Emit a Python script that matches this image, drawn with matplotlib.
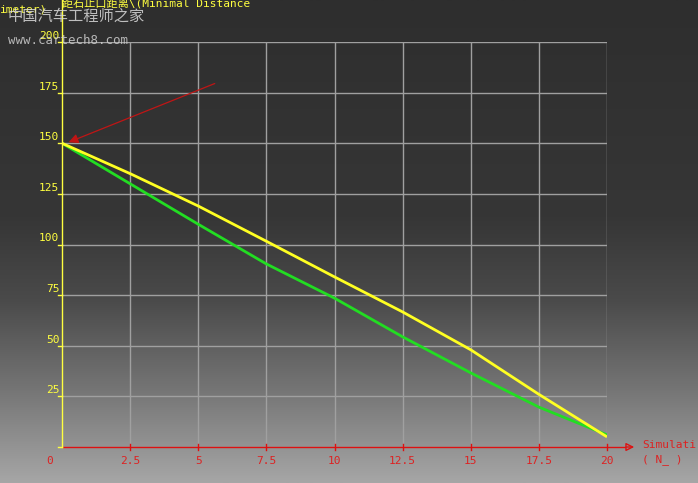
import numpy as np
import matplotlib.pyplot as plt
from matplotlib.colors import LinearSegmentedColormap

# 数据
steps = [0, 2.5, 5, 7.5, 10, 12.5, 15, 17.5, 20]
dist_yellow = [150, 135, 119, 101.6, 84, 66.7, 48, 26, 5]
dist_green = [150, 130, 110, 90.4, 73.5, 54.4, 36.6, 19.7, 6]
x_ticks = [2.5, 5, 7.5, 10, 12.5, 15, 17.5, 20]
x_ticklabels = ['2.5', '5', '7.5', '10', '12.5', '15', '17.5', '20']
y_ticks = [25, 50, 75, 100, 125, 150, 175, 200]
arrow_tail = (5.7, 180)
arrow_head = (0.15, 150)

plt.rcParams['font.family'] = ['DejaVu Sans Mono', 'Noto Sans CJK SC']

fig = plt.figure(figsize=(6.98, 4.83), dpi=100)

# 背景渐变
bg = fig.add_axes([0, 0, 1, 1])
cmap = LinearSegmentedColormap.from_list('bg', [(0, '#a6a6a6'), (0.2, '#737373'),
                                                (0.38, '#4a4a4a'), (0.55, '#363636'),
                                                (1, '#2e2e2e')])
grad = np.linspace(0, 1, 256).reshape(-1, 1)
bg.imshow(grad, aspect='auto', cmap=cmap, origin='lower', extent=[0, 1, 0, 1])
bg.set_axis_off()

ax = fig.add_axes([62 / 698, 36 / 483, 545 / 698, 405 / 483])
ax.patch.set_alpha(0)
ax.set_xlim(0, 20)
ax.set_ylim(0, 200)
for s in ax.spines.values():
    s.set_visible(False)
ax.set_xticks([])
ax.set_yticks([])

# 网格
for v in x_ticks:
    ax.plot([v, v], [0, 200], color='#a0a0a0', lw=1)
for v in y_ticks:
    ax.plot([0, 20], [v, v], color='#a0a0a0', lw=1)

# 曲线
ax.plot(steps, dist_green, color='#22dd22', lw=2.0, solid_capstyle='butt')
ax.plot(steps, dist_yellow, color='#ffff22', lw=2.0, solid_capstyle='butt')

# 坐标轴
ax.plot([0, 20.65], [0, 0], color='#dd1111', lw=1, clip_on=False)
ax.annotate('', xy=(21.1, 0), xytext=(20.6, 0),
            arrowprops=dict(arrowstyle='-|>', color='#dd1111', fc='none', lw=1,
                            mutation_scale=12), annotation_clip=False)
ax.plot([0, 0], [0, 221], color='#ffff40', lw=1, clip_on=False)
for v, lab in zip(x_ticks, x_ticklabels):
    ax.plot([v, v], [-1.5, 1.5], color='#dd1111', lw=1, clip_on=False)
    ax.text(v, -7, lab, color='#dd2222', fontsize=8, ha='center', va='center')
ax.text(-0.45, -7, '0', color='#dd2222', fontsize=8, ha='center', va='center')
ax.plot([-0.15, 0], [0, 0], color='#ffff40', lw=1, clip_on=False)
for v in y_ticks:
    ax.plot([-0.15, 0], [v, v], color='#ffff40', lw=1, clip_on=False)
    ax.text(-0.1, v + 3, str(v), color='#ffff40', fontsize=8, ha='right', va='center')

ax.text(21.3, 1, 'Simulati', color='#dd2222', fontsize=8, ha='left', va='center', clip_on=False)
ax.text(21.3, -6, '( N_ )', color='#dd2222', fontsize=8, ha='left', va='center', clip_on=False)

# 红色箭头
ax.annotate('', xy=arrow_head, xytext=arrow_tail,
            arrowprops=dict(arrowstyle='-|>', color='#c01515', lw=0.9, mutation_scale=14))

# 标题与水印
fig.text(62 / 698, 1 - 3 / 483, '距石止口距离\\(Minimal Distance', color='#ffff40',
         fontsize=8, ha='left', va='center')
fig.text(0, 1 - 10 / 483, 'imeter)', color='#ffff40', fontsize=8, ha='left', va='center')
fig.text(8 / 698, 1 - 16 / 483, '中国汽车工程师之家', color='#d8d8d8', fontsize=11,
         ha='left', va='center', family=['Noto Sans CJK SC'], alpha=0.85)
fig.text(8 / 698, 1 - 40 / 483, 'www.cartech8.com', color='#d0d0d0', fontsize=9,
         ha='left', va='center', alpha=0.85)

plt.savefig('out.png', dpi=100)
